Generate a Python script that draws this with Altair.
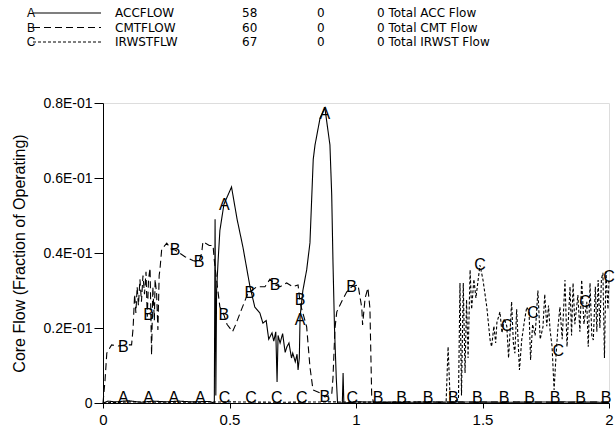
import altair as alt
import pandas as pd

# ---------------- data ----------------
acc_x = [0.0, 0.02, 0.05, 0.10, 0.15, 0.20, 0.25, 0.30, 0.35, 0.42, 0.440, 0.443, 0.446, 0.449,
         0.455, 0.462, 0.478, 0.508, 0.530, 0.553, 0.581, 0.600, 0.620, 0.632, 0.645, 0.655,
         0.668, 0.675, 0.683, 0.688, 0.692, 0.700, 0.710, 0.720, 0.727, 0.735, 0.745, 0.750,
         0.760, 0.767, 0.771, 0.776, 0.779, 0.790, 0.805, 0.818, 0.831, 0.838, 0.858, 0.877,
         0.897, 0.904, 0.909, 0.915, 0.922, 0.927, 0.940, 0.946, 0.949, 0.952, 1.0, 1.2,
         1.4, 1.6, 1.8, 2.0]
acc_y = [0.0, 0.0005, 0.0003, 0.0006, 0.0002, 0.0005, 0.0003, 0.0005, 0.0003, 0.0004, 0.0,
         0.049, 0.002, 0.030, 0.038, 0.046, 0.053, 0.0576, 0.049, 0.0416, 0.031, 0.0256,
         0.024, 0.0213, 0.022, 0.017, 0.0187, 0.0165, 0.019, 0.0056, 0.018, 0.016, 0.0185,
         0.0135, 0.015, 0.016, 0.012, 0.0133, 0.011, 0.013, 0.0088, 0.012, 0.023, 0.030,
         0.0355, 0.0427, 0.065, 0.0688, 0.076, 0.0787, 0.0688, 0.0555, 0.0376, 0.020, 0.0067,
         0.0, 0.0, 0.0, 0.008, 0.0, 0.0003, 0.0002, 0.0003, 0.0002, 0.0003, 0.0002]

cmt_x = [0.0, 0.008, 0.015, 0.034, 0.060, 0.090, 0.113, 0.119, 0.125, 0.130, 0.135, 0.140,
         0.146, 0.152, 0.158, 0.164, 0.170, 0.175, 0.180, 0.186, 0.192, 0.197, 0.203, 0.206,
         0.212, 0.217, 0.222, 0.225, 0.232, 0.252, 0.270, 0.285, 0.324, 0.355, 0.379, 0.390,
         0.395, 0.420, 0.435, 0.440, 0.449, 0.462, 0.478, 0.490, 0.512, 0.525, 0.542, 0.573,
         0.608, 0.640, 0.660, 0.680, 0.700, 0.726, 0.750, 0.771, 0.779, 0.790, 0.805, 0.818,
         0.830, 0.858, 0.877, 0.904, 0.909, 0.917, 0.924, 0.943, 0.963, 0.983, 1.008, 1.023,
         1.026, 1.036, 1.047, 1.055, 1.062, 1.070, 1.200, 1.400, 1.600, 1.800, 2.0]
cmt_y = [0.0, 0.006, 0.0133, 0.0155, 0.0152, 0.0155, 0.0155, 0.020, 0.029, 0.024, 0.031,
         0.026, 0.033, 0.027, 0.034, 0.029, 0.035, 0.023, 0.033, 0.036, 0.0128, 0.031, 0.022,
         0.033, 0.029, 0.0195, 0.034, 0.0355, 0.041, 0.0426, 0.041, 0.0408, 0.039, 0.038,
         0.0376, 0.040, 0.043, 0.042, 0.042, 0.038, 0.0328, 0.0256, 0.0235, 0.021, 0.019,
         0.021, 0.024, 0.0293, 0.031, 0.031, 0.033, 0.0315, 0.031, 0.032, 0.031, 0.0315,
         0.0267, 0.024, 0.0203, 0.0096, 0.0035, 0.0027, 0.0016, 0.0022, 0.0067, 0.020, 0.0243,
         0.027, 0.0296, 0.031, 0.0315, 0.0253, 0.0208, 0.028, 0.0307, 0.0253, 0.002, 0.0,
         0.0003, 0.0002, 0.0003, 0.0002, 0.0003]

irw_x = [0.0, 0.1, 0.3, 0.5, 0.7, 0.9, 1.1, 1.3, 1.356, 1.364, 1.372, 1.378, 1.405, 1.411,
         1.417, 1.424, 1.431, 1.437, 1.443, 1.451, 1.457, 1.466, 1.474, 1.490, 1.502, 1.517,
         1.530, 1.536, 1.545, 1.552, 1.557, 1.569, 1.577, 1.586, 1.596, 1.603, 1.609, 1.615,
         1.622, 1.628, 1.635, 1.646, 1.655, 1.666, 1.675, 1.684, 1.690, 1.698, 1.708, 1.719,
         1.728, 1.739, 1.746, 1.754, 1.761, 1.767, 1.775, 1.783, 1.790, 1.798, 1.806, 1.815,
         1.826, 1.834, 1.846, 1.852, 1.858, 1.865, 1.877, 1.885, 1.892, 1.901, 1.912, 1.918,
         1.925, 1.932, 1.938, 1.946, 1.952, 1.957, 1.964, 1.970, 1.976, 1.982, 1.988, 1.996,
         2.0]
irw_y = [0.0, 0.0003, 0.0002, 0.0003, 0.0002, 0.0003, 0.0002, 0.0003, 0.0, 0.015, 0.001,
         0.0, 0.001, 0.032, 0.002, 0.032, 0.008, 0.0275, 0.012, 0.0355, 0.025, 0.033, 0.028,
         0.0368, 0.0328, 0.0256, 0.0168, 0.015, 0.0205, 0.016, 0.0215, 0.0243, 0.0187, 0.0225,
         0.0205, 0.012, 0.019, 0.027, 0.016, 0.0133, 0.025, 0.0088, 0.0168, 0.022, 0.0256,
         0.0245, 0.0115, 0.021, 0.018, 0.030, 0.017, 0.0203, 0.029, 0.0205, 0.026, 0.0195,
         0.015, 0.0035, 0.012, 0.020, 0.0256, 0.017, 0.0328, 0.015, 0.031, 0.018, 0.032,
         0.021, 0.0288, 0.019, 0.0328, 0.021, 0.027, 0.015, 0.032, 0.018, 0.0168, 0.031,
         0.019, 0.0328, 0.020, 0.033, 0.0347, 0.012, 0.035, 0.025, 0.033]

# symbol markers drawn along each curve
mark_a_x = [0.08, 0.18, 0.28, 0.385, 0.48, 0.779, 0.877]
mark_a_y = [0.0013, 0.0013, 0.0013, 0.0013, 0.0528, 0.0222, 0.0770]
mark_b_x = [0.08, 0.18, 0.285, 0.38, 0.478, 0.58, 0.68, 0.779, 0.877, 0.983,
            1.087, 1.18, 1.285, 1.385, 1.48, 1.585, 1.686, 1.787, 1.888, 1.988]
mark_b_y = [0.0149, 0.0235, 0.0408, 0.0376, 0.0235, 0.0293, 0.0315, 0.0275, 0.0016, 0.031,
            0.0013, 0.0013, 0.0013, 0.0013, 0.0013, 0.0013, 0.0013, 0.0013, 0.0013, 0.0013]
mark_c_x = [0.48, 0.585, 0.687, 0.786, 0.985, 1.49, 1.596, 1.70, 1.80, 1.905, 2.0]
mark_c_y = [0.0013, 0.0013, 0.0013, 0.0013, 0.0013, 0.0368, 0.0205, 0.024, 0.014, 0.027, 0.0335]

series_names = ["ACCFLOW", "CMTFLOW", "IRWSTFLW"]
series_letters = ["A", "B", "C"]
legend_nums = ["58", "60", "67"]
legend_zero = ["0", "0", "0"]
legend_desc = ["0 Total ACC Flow", "0 Total CMT Flow", "0 Total IRWST Flow"]

x_ticks = [0, 0.5, 1, 1.5, 2]
y_ticks = [0, 0.02, 0.04, 0.06, 0.08]

# ---------------- tables ----------------
frames = []
for name, xs_, ys_ in zip(series_names, [acc_x, cmt_x, irw_x], [acc_y, cmt_y, irw_y]):
    frames.append(pd.DataFrame({"series": name, "x": xs_, "y": ys_, "i": range(len(xs_))}))
lines_df = pd.concat(frames, ignore_index=True)

mframes = []
for letter, xs_, ys_ in zip(series_letters, [mark_a_x, mark_b_x, mark_c_x],
                            [mark_a_y, mark_b_y, mark_c_y]):
    mframes.append(pd.DataFrame({"letter": letter, "x": xs_, "y": ys_}))
marks_df = pd.concat(mframes, ignore_index=True)

legend_df = pd.DataFrame({
    "row": [0, 1, 2],
    "series": series_names,
    "letter": series_letters,
    "num": legend_nums,
    "zero": legend_zero,
    "desc": legend_desc,
})

FONT = "Liberation Sans"
dash_scale = alt.Scale(domain=series_names, range=[[1, 0], [7, 4], [3, 2]])

xs = alt.Scale(domain=[0, 2], nice=False, zero=False)
ys = alt.Scale(domain=[0, 0.08], nice=False)

x_enc = alt.X("x:Q", scale=xs, title=None,
              axis=alt.Axis(values=x_ticks, format="~g", grid=False, tickSize=5,
                            labelPadding=4, labelFontSize=15, labelFont=FONT,
                            labelColor="black", domainColor="black", tickColor="black",
                            labelFlush=False))
y_enc = alt.Y("y:Q", scale=ys, title="Core Flow (Fraction of Operating)",
              axis=alt.Axis(values=y_ticks, grid=False, tickSize=9, labelPadding=2,
                            labelExpr="datum.value == 0 ? '0' : format(datum.value * 10, '.1f') + 'E-01'",
                            labelFontSize=14, labelFont=FONT, labelColor="black",
                            titleFont=FONT, titleFontSize=16, titleFontWeight="normal",
                            titleColor="black", titlePadding=15,
                            domainColor="black", tickColor="black", labelFlush=False))

lines = alt.Chart(lines_df).mark_line(color="black", strokeWidth=1.1).encode(
    x=x_enc, y=y_enc,
    strokeDash=alt.StrokeDash("series:N", scale=dash_scale, legend=None),
    detail="series:N",
    order="i:Q",
)

markers = alt.Chart(marks_df).mark_text(
    font=FONT, fontSize=16, color="black", align="center", baseline="middle"
).encode(x=alt.X("x:Q", scale=xs), y=alt.Y("y:Q", scale=ys), text="letter:N")

main = alt.layer(lines, markers)

ly = alt.Y("row:Q", scale=alt.Scale(domain=[0, 2], range=[-90, -61]), axis=None)

leg_lines = alt.Chart(legend_df).mark_rule(color="black", strokeWidth=1.1).encode(
    x=alt.value(-70), x2=alt.value(-2), y=ly,
    strokeDash=alt.StrokeDash("series:N", scale=dash_scale, legend=None),
)


def leg_text(field, xpos):
    return alt.Chart(legend_df).mark_text(
        font="DejaVu Sans", fontSize=12, color="black", align="left",
        baseline="middle"
    ).encode(x=alt.value(xpos), y=ly, text=f"{field}:N")


leg_letter = alt.Chart(legend_df).mark_text(
    font=FONT, fontSize=12, color="black", align="center", baseline="middle"
).encode(x=alt.value(-72), y=ly, text="letter:N")

legend = alt.layer(leg_lines, leg_letter, leg_text("series", 12), leg_text("num", 139),
                   leg_text("zero", 214), leg_text("desc", 274))

chart = alt.layer(main, legend).resolve_scale(y="independent").properties(
    width=506, height=300,
    autosize=alt.AutoSizeParams(type="none"),
    padding={"left": 103, "top": 103, "right": 7, "bottom": 28},
).configure_view(stroke="black", strokeWidth=1).configure(background="white")

chart.save("out.html", embed_options={"renderer": "svg", "actions": False})
